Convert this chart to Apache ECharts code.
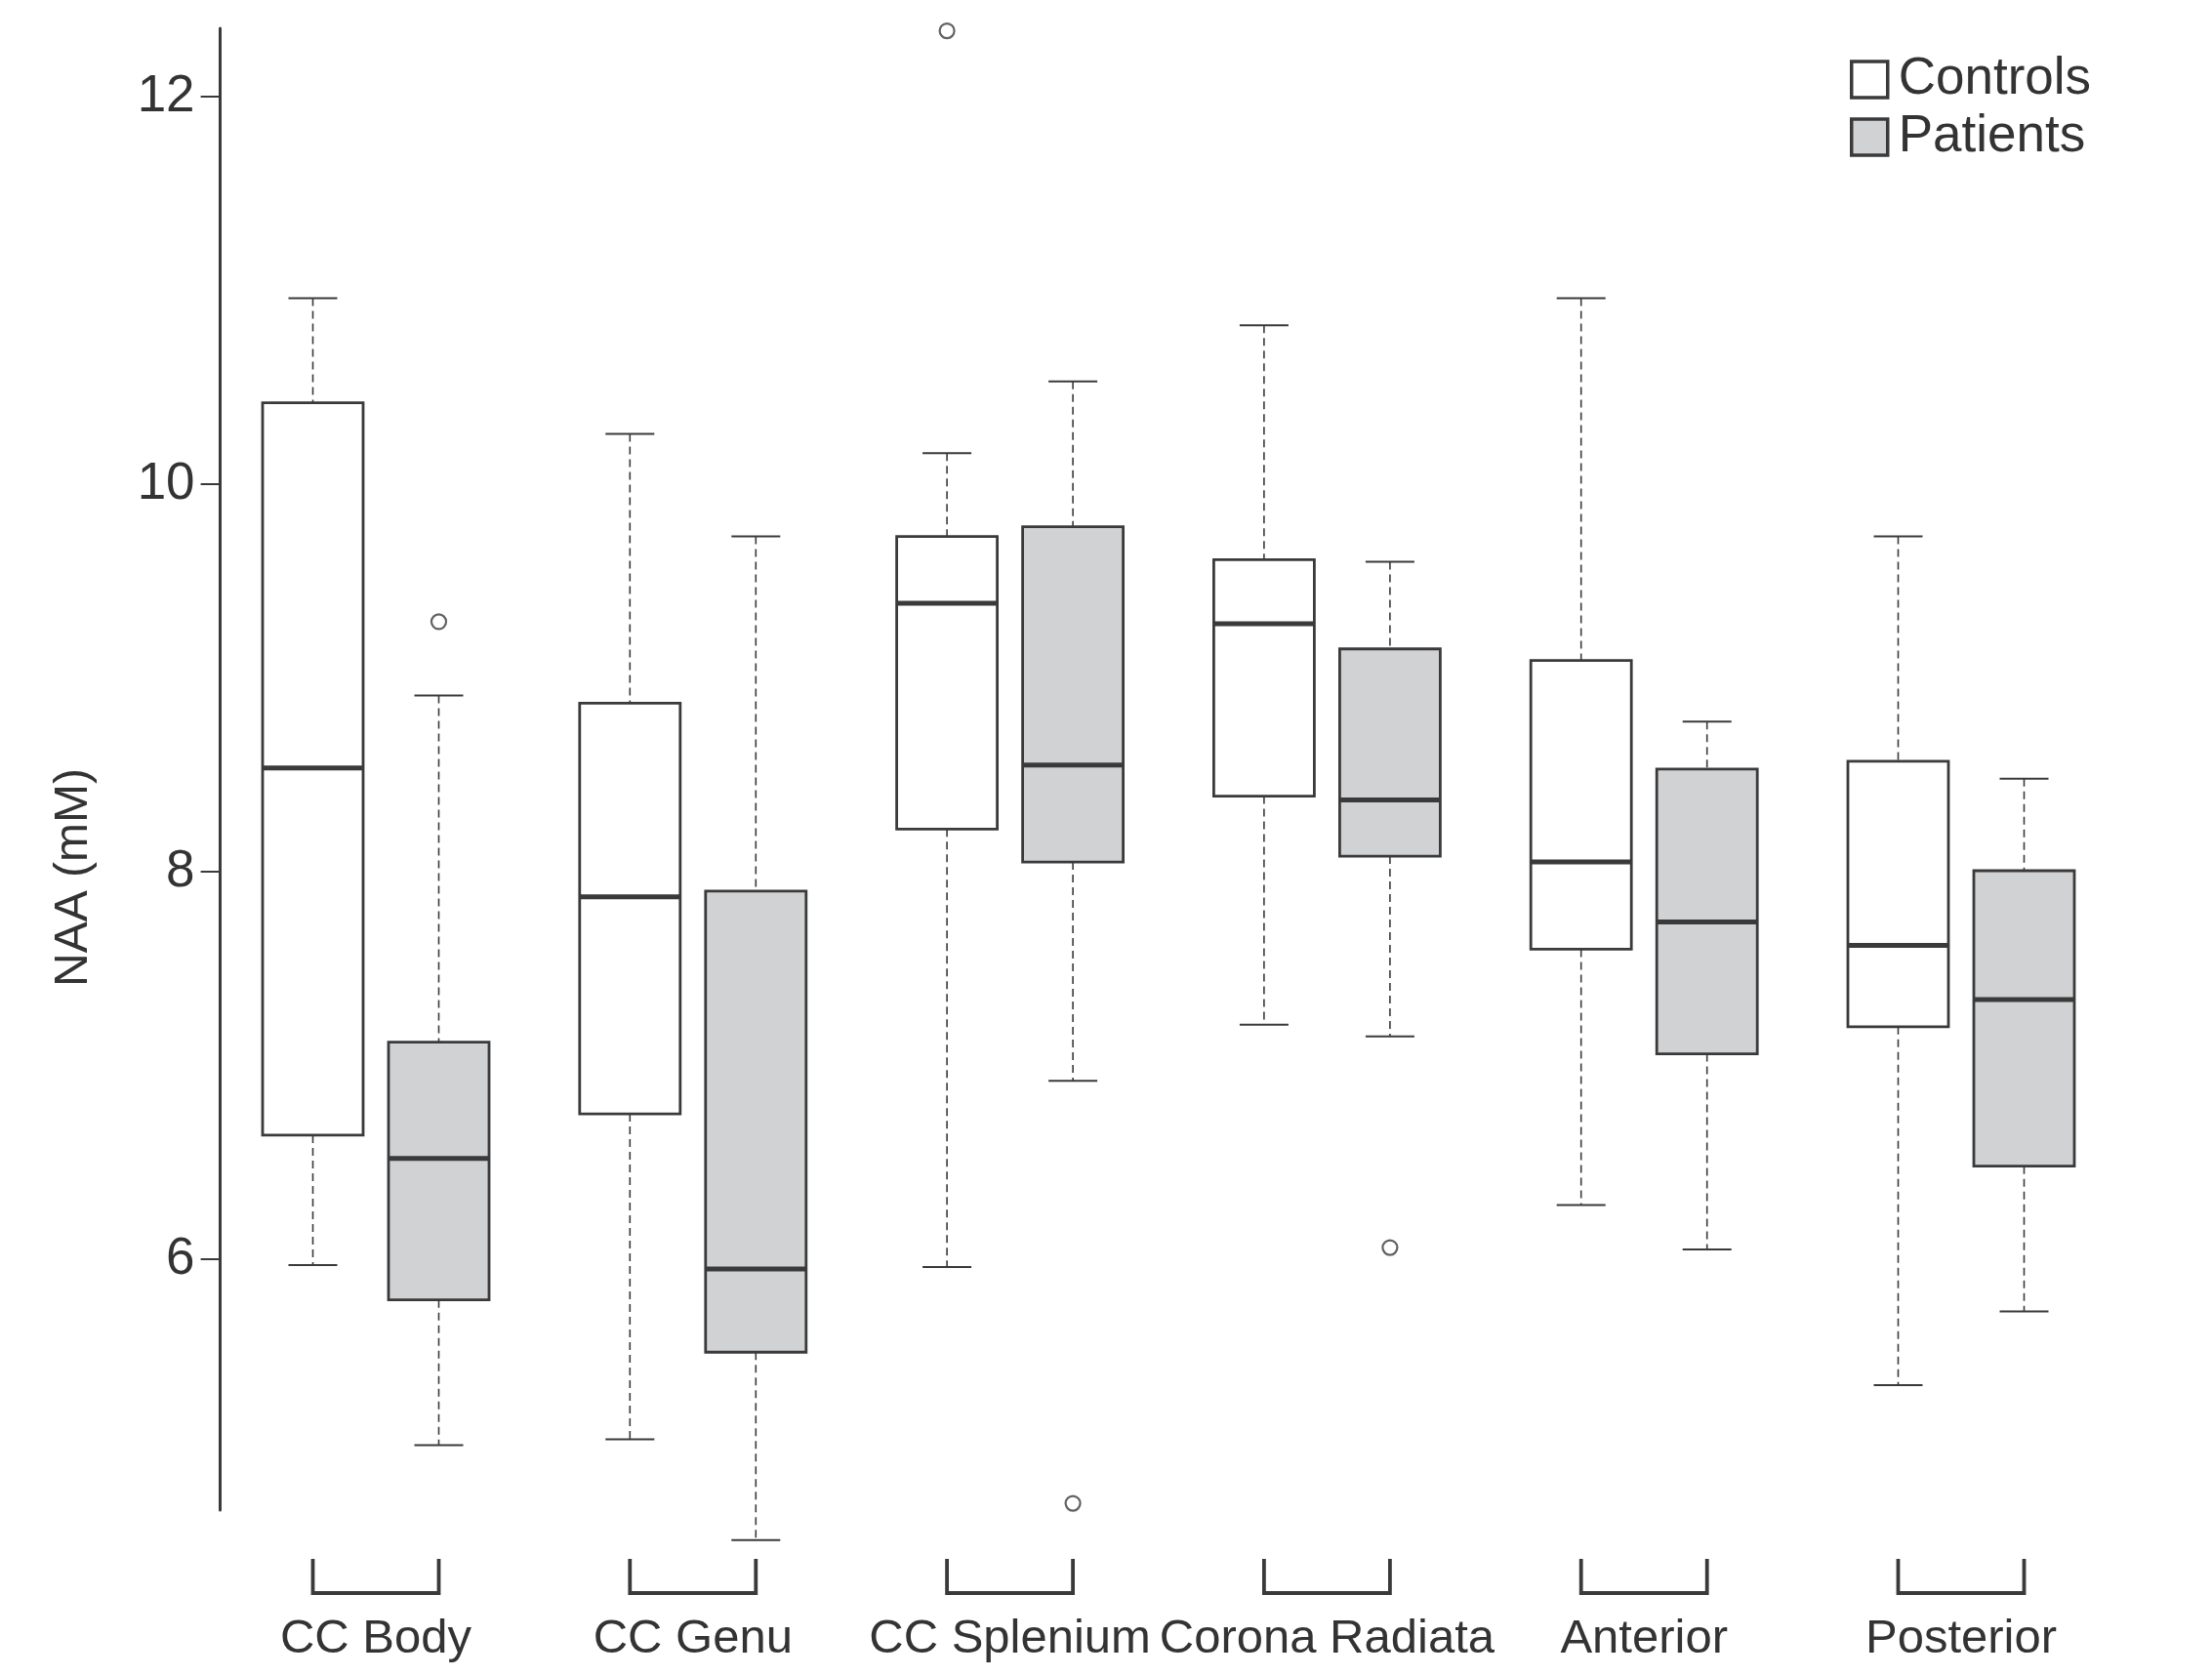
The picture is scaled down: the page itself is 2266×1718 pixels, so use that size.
<!DOCTYPE html>
<html>
<head>
<meta charset="utf-8">
<script src="https://cdn.jsdelivr.net/npm/echarts@6/dist/echarts.min.js"></script>
<style>
html,body{margin:0;padding:0;background:#fff;}
#chart{width:2266px;height:1718px;}
</style>
</head>
<body>
<div id="chart"></div>
<script>
var categories = ['CC Body', 'CC Genu', 'CC Splenium', 'Corona Radiata', 'Anterior', 'Posterior'];
// [min, Q1, median, Q3, max]
var controlsBoxes = [
  [5.97, 6.64, 8.535, 10.42, 10.96],
  [5.07, 6.75, 7.87, 8.87, 10.26],
  [5.96, 8.22, 9.385, 9.73, 10.16],
  [7.21, 8.39, 9.28, 9.61, 10.82],
  [6.28, 7.60, 8.05, 9.09, 10.96],
  [5.35, 7.20, 7.62, 8.57, 9.73]
];
var patientsBoxes = [
  [5.04, 5.79, 6.52, 7.12, 8.91],
  [4.55, 5.52, 5.95, 7.90, 9.73],
  [6.92, 8.05, 8.55, 9.78, 10.53],
  [7.15, 8.08, 8.37, 9.15, 9.60],
  [6.05, 7.06, 7.74, 8.53, 8.775],
  [5.73, 6.48, 7.34, 8.005, 8.48]
];
// [category index, value]
var controlsOutliers = [[2, 12.34]];
var patientsOutliers = [[0, 9.29], [2, 4.74], [3, 6.06]];
var yTicks = [6, 8, 10, 12];

var STROKE = '#3a3a3a';
var FILL_P = '#d1d2d4';
var OFF = 64.5, BOXW = 103, CAPW = 50;

function boxData(arr) {
  return arr.map(function (b, i) { return [i, b[0], b[1], b[2], b[3], b[4]]; });
}
function makeRender(offset, fill) {
  return function (params, api) {
    var i = api.value(0);
    var cx = api.coord([i, api.value(3)])[0] + offset;
    var yMin = api.coord([i, api.value(1)])[1];
    var yQ1 = api.coord([i, api.value(2)])[1];
    var yMed = api.coord([i, api.value(3)])[1];
    var yQ3 = api.coord([i, api.value(4)])[1];
    var yMax = api.coord([i, api.value(5)])[1];
    var dash = {stroke: STROKE, lineWidth: 1.6, lineDash: [8, 5]};
    var solid = {stroke: STROKE, lineWidth: 2};
    return {
      type: 'group',
      children: [
        {type: 'line', shape: {x1: cx, y1: yMax, x2: cx, y2: yQ3}, style: dash},
        {type: 'line', shape: {x1: cx, y1: yQ1, x2: cx, y2: yMin}, style: dash},
        {type: 'line', shape: {x1: cx - CAPW / 2, y1: yMax, x2: cx + CAPW / 2, y2: yMax}, style: solid},
        {type: 'line', shape: {x1: cx - CAPW / 2, y1: yMin, x2: cx + CAPW / 2, y2: yMin}, style: solid},
        {type: 'rect', shape: {x: cx - BOXW / 2, y: yQ3, width: BOXW, height: yQ1 - yQ3},
          style: {fill: fill, stroke: STROKE, lineWidth: 2.8}},
        {type: 'line', shape: {x1: cx - BOXW / 2, y1: yMed, x2: cx + BOXW / 2, y2: yMed},
          style: {stroke: STROKE, lineWidth: 5}}
      ]
    };
  };
}

var chart = echarts.init(document.getElementById('chart'), null, {renderer: 'canvas'});
var FONT = 'Liberation Sans, Arial, Helvetica, sans-serif';
function legendAt(top, name, fill) {
  return {
    orient: 'vertical', left: 1895, top: top, padding: 0,
    itemWidth: 37, itemHeight: 37,
    textStyle: {fontSize: 53, color: '#333', fontFamily: FONT, padding: [0, 0, 0, 6]},
    data: [{name: name, icon: 'rect', itemStyle: {color: fill, borderColor: STROKE, borderWidth: 3.5}}]
  };
}
var option = {
  backgroundColor: '#ffffff',
  animation: false,
  textStyle: {fontFamily: FONT, color: '#333'},
  grid: {left: 222.6, right: 94.6, top: 29, bottom: 171, containLabel: false},
  legend: [legendAt(55, 'Controls', '#ffffff'), legendAt(114, 'Patients', FILL_P)],
  xAxis: {
    type: 'category', data: categories,
    axisLine: {show: false}, axisTick: {show: false}, splitLine: {show: false},
    axisLabel: {fontSize: 49, color: '#333', margin: 108, fontFamily: FONT, interval: 0}
  },
  yAxis: {
    type: 'value', min: 4.705, max: 12.353, offset: -3,
    splitLine: {show: false},
    axisLine: {show: true, lineStyle: {color: STROKE, width: 3}},
    axisTick: {show: true, length: 20, customValues: yTicks, lineStyle: {color: STROKE, width: 2}},
    axisLabel: {fontSize: 53, color: '#333', margin: 26, customValues: yTicks, fontFamily: FONT}
  },
  graphic: [{
    type: 'text', x: 76, y: 899, rotation: Math.PI / 2,
    style: {text: 'NAA (mM)', fontSize: 48, fontFamily: FONT, fill: '#333', textAlign: 'center', textVerticalAlign: 'middle'}
  }],
  series: [
    {
      name: 'Controls', type: 'custom', renderItem: makeRender(-OFF, '#ffffff'),
      data: boxData(controlsBoxes), encode: {x: 0, y: [1, 2, 3, 4, 5]}, clip: false,
      itemStyle: {color: '#ffffff', borderColor: STROKE}
    },
    {
      name: 'Patients', type: 'custom', renderItem: makeRender(OFF, FILL_P),
      data: boxData(patientsBoxes), encode: {x: 0, y: [1, 2, 3, 4, 5]}, clip: false,
      itemStyle: {color: FILL_P, borderColor: STROKE}
    },
    {
      name: 'Controls', type: 'scatter', data: controlsOutliers, symbol: 'circle', symbolSize: 15,
      symbolOffset: [-OFF, 0], clip: false,
      itemStyle: {color: '#ffffff', borderColor: STROKE, borderWidth: 2.2}
    },
    {
      name: 'Patients', type: 'scatter', data: patientsOutliers, symbol: 'circle', symbolSize: 15,
      symbolOffset: [OFF, 0], clip: false,
      itemStyle: {color: '#ffffff', borderColor: STROKE, borderWidth: 2.2}
    },
    {
      name: 'brackets', type: 'custom', clip: false,
      data: categories.map(function (c, i) { return [i]; }),
      encode: {x: 0},
      renderItem: function (params, api) {
        var i = api.value(0);
        var cx = api.coord([i, 8])[0];
        var yb = params.coordSys.y + params.coordSys.height;
        return {
          type: 'polyline',
          shape: {points: [[cx - OFF, yb + 50], [cx - OFF, yb + 85], [cx + OFF, yb + 85], [cx + OFF, yb + 50]]},
          style: {stroke: STROKE, lineWidth: 3.8, fill: null}
        };
      }
    }
  ]
};
chart.setOption(option);
</script>
</body>
</html>
